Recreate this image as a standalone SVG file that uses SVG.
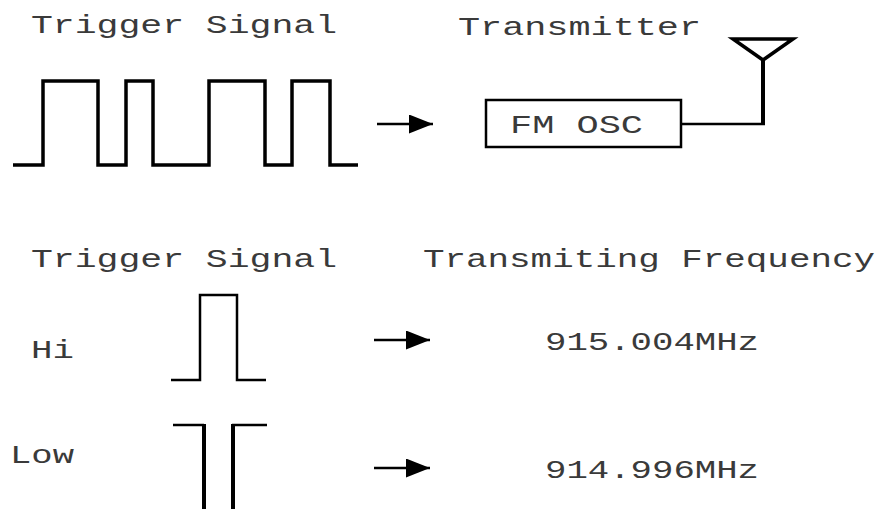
<svg xmlns="http://www.w3.org/2000/svg" width="896" height="509" viewBox="0 0 896 509">
<defs>
<style>
text{font-family:"Liberation Mono","Courier New",monospace;font-size:25px;fill:#3a3a3a}
.w{fill:none;stroke:#000;stroke-width:3.5;stroke-linejoin:miter;stroke-linecap:butt}
.t{fill:none;stroke:#000;stroke-width:2.5}
.th{fill:none;stroke:#000;stroke-width:4}
</style>
<marker id="ah" viewBox="0 0 10 10" refX="10" refY="5" markerWidth="24" markerHeight="19" markerUnits="userSpaceOnUse" orient="auto" preserveAspectRatio="none">
<path d="M0,0 L10,5 L0,10 Z" fill="#000"/>
</marker>
</defs>
<rect width="896" height="509" fill="#fff"/>
<g id="label-trigger-top"><text x="31" y="33" textLength="306" lengthAdjust="spacingAndGlyphs">Trigger Signal</text></g>
<g id="label-transmitter"><text x="458" y="35" textLength="243" lengthAdjust="spacingAndGlyphs">Transmitter</text></g>
<g id="waveform"><path class="w" d="M13,165 H43 V81 H98 V165 H126 V81 H153 V165 H209 V81 H265 V165 H292 V81 H330 V165 H358"/></g>
<g id="fm-osc"><rect x="486" y="100" width="195" height="47" fill="none" stroke="#000" stroke-width="2.5"/><text x="510" y="133" textLength="133" lengthAdjust="spacingAndGlyphs">FM OSC</text></g>
<g id="antenna"><path class="w" d="M733,39 H793 L763,60 Z"/><path class="th" d="M763,59 V124"/></g>
<g id="label-trigger-bottom"><text x="31" y="267" textLength="306" lengthAdjust="spacingAndGlyphs">Trigger Signal</text></g>
<g id="label-freq"><text x="423" y="267" textLength="452" lengthAdjust="spacingAndGlyphs">Transmiting Frequency</text></g>
<g id="label-hi"><text x="31" y="358" textLength="43" lengthAdjust="spacingAndGlyphs">Hi</text></g>
<g id="pulse-hi"><path class="t" d="M171,380 H200 V295 H237 V380 H266"/></g>
<g id="label-low"><text x="10" y="463" textLength="64" lengthAdjust="spacingAndGlyphs">Low</text></g>
<g id="pulse-low"><path class="t" d="M173,425 H204"/><path class="th" d="M204,424 V509"/><path class="th" d="M233,424 V509"/><path class="t" d="M232,425 H267"/></g>
<g id="freq-hi"><text x="545" y="350" textLength="214" lengthAdjust="spacingAndGlyphs">915.004MHz</text></g>
<g id="freq-low"><text x="545" y="478" textLength="214" lengthAdjust="spacingAndGlyphs">914.996MHz</text></g>
<g id="connectors">
<path class="t" d="M377,124 H433" marker-end="url(#ah)"/>
<path class="t" d="M681,124 H765"/>
<path class="t" d="M374,340 H430" marker-end="url(#ah)"/>
<path class="t" d="M374,468 H430" marker-end="url(#ah)"/>
</g>
</svg>
